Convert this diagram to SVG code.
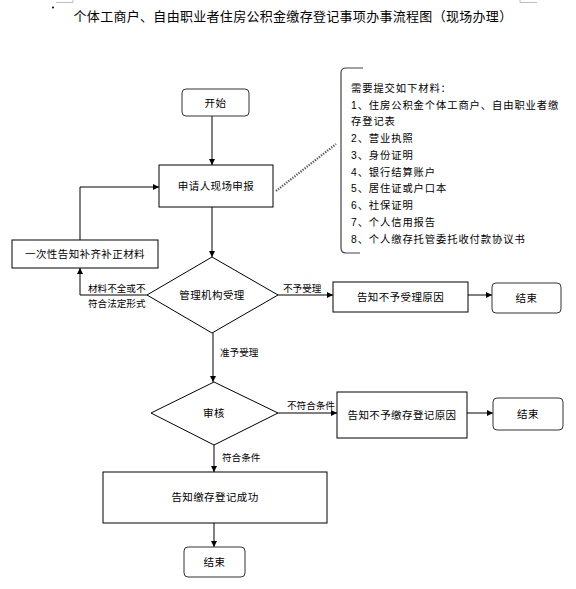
<svg xmlns="http://www.w3.org/2000/svg" width="576" height="589" viewBox="0 0 576 589">
<defs>
<marker id="ah" viewBox="0 0 10 10" refX="10" refY="5" markerWidth="6" markerHeight="6" markerUnits="userSpaceOnUse" orient="auto"><path d="M0,0 L10,5 L0,10 z" fill="#000"/></marker>
<style>
text{font-family:"Liberation Sans","Noto Sans CJK SC",sans-serif;fill:#000}
.t{font-size:10.5px;text-anchor:middle;dominant-baseline:central;letter-spacing:0.4px}
.l{font-size:9.6px;dominant-baseline:central;letter-spacing:0px}
.m{font-size:10.3px;dominant-baseline:central;letter-spacing:0.9px}
.box{fill:#fff;stroke:#000;stroke-width:1}
.rbox{fill:#fff;stroke:#333;stroke-width:1}
.c{fill:none;stroke:#000;stroke-width:1}
</style>
</defs>
<rect width="576" height="589" fill="#fff"/>
<g id="page-marks" stroke="#bbb" stroke-width="1" fill="none">
<path d="M56,2.5 H73 V0"/>
<path d="M520,0 V2.5 H537"/>
</g>
<circle cx="53" cy="7.5" r="1" fill="#000"/>
<text x="293" y="16" style="font-size:13px;text-anchor:middle;dominant-baseline:central;letter-spacing:0.3px">个体工商户、自由职业者住房公积金缴存登记事项办事流程图（现场办理）</text>

<g id="connectors">
<line class="c" x1="212" y1="116" x2="212" y2="165" marker-end="url(#ah)"/>
<line class="c" x1="212" y1="207" x2="212" y2="257" marker-end="url(#ah)"/>
<polyline class="c" points="147,295 80,295 80,268" marker-end="url(#ah)"/>
<polyline class="c" points="80,240 80,187 159,187" marker-end="url(#ah)"/>
<line class="c" x1="278" y1="295" x2="333" y2="295" marker-end="url(#ah)"/>
<line class="c" x1="468" y1="295" x2="492" y2="295" marker-end="url(#ah)"/>
<line class="c" x1="213" y1="333" x2="213" y2="382" marker-end="url(#ah)"/>
<line class="c" x1="278" y1="413" x2="337" y2="413" marker-end="url(#ah)"/>
<line class="c" x1="467" y1="413" x2="493" y2="413" marker-end="url(#ah)"/>
<line class="c" x1="214" y1="445" x2="214" y2="472" marker-end="url(#ah)"/>
<line class="c" x1="214" y1="523" x2="214" y2="547" marker-end="url(#ah)"/>
<line x1="276" y1="191" x2="336" y2="144" stroke="#555" stroke-width="2.2" stroke-dasharray="1.3,1.3"/>
<text class="l" x="88" y="288">材料不全或不</text>
<text class="l" x="88" y="303">符合法定形式</text>
<text class="l" x="283" y="288">不予受理</text>
<text class="l" x="220" y="352">准予受理</text>
<text class="l" x="287" y="405">不符合条件</text>
<text class="l" x="222" y="457">符合条件</text>
</g>

<g id="start">
<rect class="rbox" x="182" y="89" width="67" height="27" rx="4"/>
<text class="t" x="215.5" y="102.5">开始</text>
</g>
<g id="apply">
<rect class="box" x="159" y="165" width="114" height="42"/>
<text class="t" x="216" y="186">申请人现场申报</text>
</g>
<g id="materials">
<path d="M363,68 H346 Q341,68 341,73 V248 Q341,253 346,253 H360" fill="none" stroke="#444" stroke-width="1.2"/>
<text class="m" x="351" y="88">需要提交如下材料：</text>
<text class="m" x="351" y="105">1、住房公积金个体工商户、自由职业者缴</text>
<text class="m" x="351" y="121">存登记表</text>
<text class="m" x="351" y="138">2、营业执照</text>
<text class="m" x="351" y="155">3、身份证明</text>
<text class="m" x="351" y="172">4、银行结算账户</text>
<text class="m" x="351" y="188">5、居住证或户口本</text>
<text class="m" x="351" y="205">6、社保证明</text>
<text class="m" x="351" y="222">7、个人信用报告</text>
<text class="m" x="351" y="239">8、个人缴存托管委托收付款协议书</text>
</g>
<g id="supplement">
<rect class="box" x="12" y="240" width="146" height="28"/>
<text class="t" x="85" y="254">一次性告知补齐补正材料</text>
</g>
<g id="accept">
<polygon class="box" points="212,257 278,295 212,333 147,295"/>
<text class="t" x="212" y="295">管理机构受理</text>
</g>
<g id="reject-notice">
<rect class="box" x="333" y="282" width="135" height="30"/>
<text class="t" x="400.5" y="297">告知不予受理原因</text>
</g>
<g id="end1">
<rect class="rbox" x="492" y="283" width="69" height="30" rx="4"/>
<text class="t" x="526.5" y="298">结束</text>
</g>
<g id="review">
<polygon class="box" points="214,382 278,413 214,445 151,413"/>
<text class="t" x="214" y="413">审核</text>
</g>
<g id="noreg-notice">
<rect class="box" x="337" y="392" width="130" height="46"/>
<text class="t" x="402" y="415">告知不予缴存登记原因</text>
</g>
<g id="end2">
<rect class="rbox" x="493" y="398" width="70" height="32" rx="4"/>
<text class="t" x="528" y="414">结束</text>
</g>
<g id="success">
<rect class="box" x="103" y="472" width="224" height="51"/>
<text class="t" x="215" y="497">告知缴存登记成功</text>
</g>
<g id="end3">
<rect class="rbox" x="184" y="547" width="61" height="30" rx="4"/>
<text class="t" x="214.5" y="562">结束</text>
</g>
</svg>
